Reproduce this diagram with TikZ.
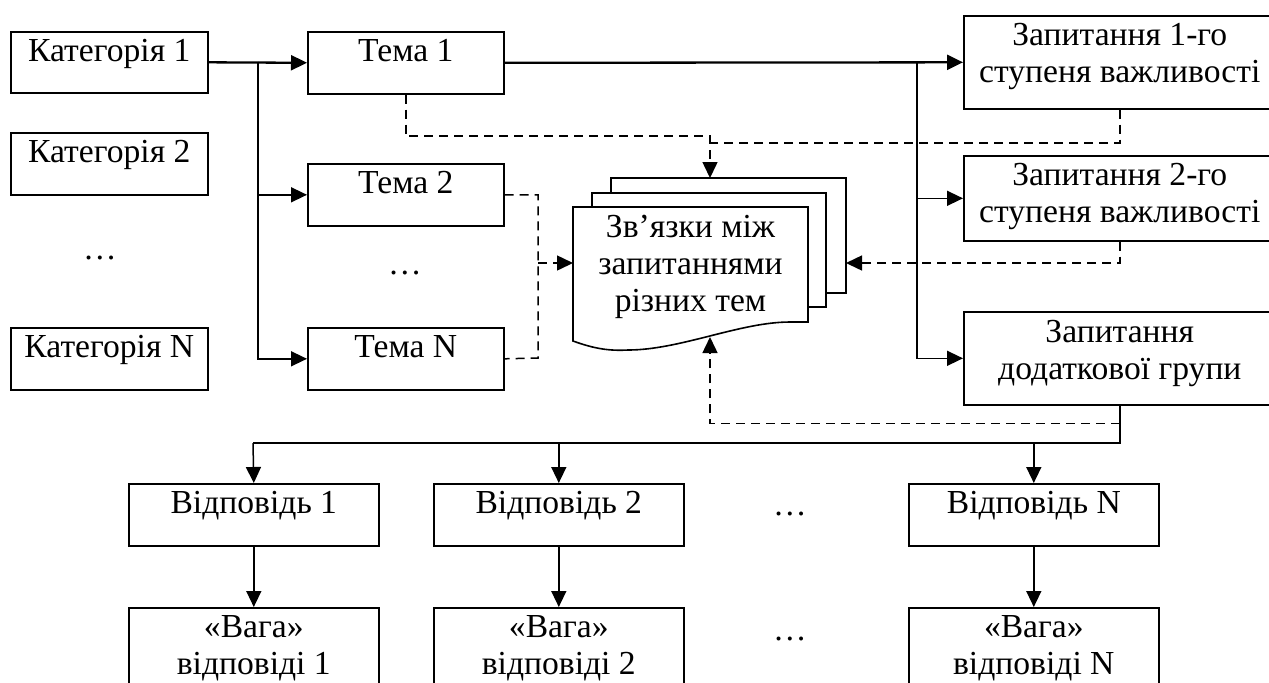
\documentclass[tikz,border=0pt]{standalone}
\usepackage{fontspec}
\setmainfont{Liberation Serif}
\usetikzlibrary{arrows.meta,calc}

% centred lines of text whose reference point is the first baseline
\newcommand{\mlines}[1]{\begin{tabular}[t]{@{}c@{}}#1\end{tabular}}

\begin{document}
\begin{tikzpicture}[x=0.5pt,y=-0.5pt,
  every node/.style={font=\fontsize{16.8pt}{18.5pt}\selectfont},
  box/.style={draw, line width=0.8pt, inner sep=0pt, anchor=north west},
  sz/.style 2 args={minimum width=#1*0.5pt, minimum height=#2*0.5pt},
  lbl/.style={anchor=base, inner sep=0pt},
  tip/.style={-{Triangle[length=8pt,width=7.5pt]}},
  line/.style={line width=0.75pt},
  main/.style={line width=1.15pt},
  dashline/.style={line width=0.75pt, dash pattern=on 4.5pt off 3pt},
  page/.style={line width=0.8pt, line join=miter}
]
\useasboundingbox (0,0) rectangle (1269,682);
\clip (0,0) rectangle (1269,682);

% categories
\node[box, sz={197}{61}] (k1) at (10,31) {};
\node[box, sz={197}{62}] (k2) at (10,132) {};
\node[box, sz={197}{62}] (kN) at (10,327) {};
\node[lbl] (k1t) at ([yshift=-15.3pt]k1.north) {Категорія 1};
\node[lbl] (k2t) at ([yshift=-15.3pt]k2.north) {Категорія 2};
\node[lbl] (kNt) at ([yshift=-15.3pt]kN.north) {Категорія N};
\node[lbl] (kdots) at (100,259) {…};

% topics
\node[box, sz={196}{62}] (t1) at (307,31) {};
\node[box, sz={196}{62}] (t2) at (307,163) {};
\node[box, sz={196}{62}] (tN) at (307,327) {};
\node[lbl] (t1t) at ([yshift=-15.3pt]t1.north) {Тема 1};
\node[lbl] (t2t) at ([yshift=-15.3pt]t2.north) {Тема 2};
\node[lbl] (tNt) at ([yshift=-15.3pt]tN.north) {Тема N};
\node[lbl] (tdots) at (405,274) {…};

% question groups
\node[box, sz={312}{93}] (z1) at (963,15) {};
\node[box, sz={312}{85}] (z2) at (963,155) {};
\node[box, sz={312}{93}] (z3) at (963,311) {};
\node[lbl] (z1t) at ([yshift=-15.2pt]z1.north) {\mlines{Запитання 1-го\\ступеня важливості}};
\node[lbl] (z2t) at ([yshift=-15.2pt]z2.north) {\mlines{Запитання 2-го\\ступеня важливості}};
\node[lbl] (z3t) at ([yshift=-15.5pt]z3.north) {\mlines{Запитання\\додаткової групи}};

% answers and their weights
\node[box, sz={250}{62}] (v1) at (128,483) {};
\node[box, sz={250}{62}] (v2) at (433,483) {};
\node[box, sz={250}{62}] (vN) at (908,483) {};
\node[lbl] (v1t) at ([yshift=-15.2pt]v1.north) {Відповідь 1};
\node[lbl] (v2t) at ([yshift=-15.2pt]v2.north) {Відповідь 2};
\node[lbl] (vNt) at ([yshift=-15.2pt]vN.north) {Відповідь N};
\node[lbl] (vdots) at (790,515) {…};

\node[box, sz={250}{95}] (w1) at (128,607) {};
\node[box, sz={250}{95}] (w2) at (433,607) {};
\node[box, sz={250}{95}] (wN) at (908,607) {};
\node[lbl] (w1t) at ([yshift=-15.2pt]w1.north) {\mlines{«Вага»\\відповіді 1}};
\node[lbl] (w2t) at ([yshift=-15.2pt]w2.north) {\mlines{«Вага»\\відповіді 2}};
\node[lbl] (wNt) at ([yshift=-15.2pt]wN.north) {\mlines{«Вага»\\відповіді N}};
\node[lbl] (wdots) at (790,640) {…};

% stacked document: links between questions of different topics
\draw[page] (611,193) -- (611,178) -- (846,178) -- (846,293) -- (826,293);
\draw[page] (592,207) -- (592,193) -- (826,193) -- (826,307) -- (808,307);
\draw[page] (573,207) -- (808,207) -- (808,322) -- (790,322)
  .. controls (740,322) and (680,350) .. (628,350)
  .. controls (610,351) and (595,349) .. (573,341) -- cycle;
\node[lbl] (doc) at (690.5,237) {\mlines{Зв’язки між\\запитаннями\\різних тем}};
\coordinate (dT) at (710,178);
\coordinate (dL) at (573,263);
\coordinate (dR) at (846,263);
\coordinate (dB) at (710,337);

% solid connectors
\coordinate (j1) at (258,61.5);
\coordinate (j2) at (917,61.5);
\draw[main, tip] (k1.east) -- (t1.west);
\draw[line, tip] (j1) |- (t2.west);
\draw[line, tip] (j1) |- (tN.west);
\draw[main, tip] (t1.east) -- (z1.west);
\draw[line, tip] (j2) |- (z2.west);
\draw[line, tip] (j2) |- (z3.west);

\coordinate (bus) at (253,443);
\draw[line] (z3.south) |- (bus);
\draw[line, tip] (bus) -- (v1.north);
\draw[line, tip] (v2.north |- bus) -- (v2.north);
\draw[line, tip] (vN.north |- bus) -- (vN.north);
\draw[line, tip] (v1.south) -- (w1.north);
\draw[line, tip] (v2.south) -- (w2.north);
\draw[line, tip] (vN.south) -- (wN.north);

% dashed connectors into the document
\coordinate (m1) at (710,136);
\coordinate (m2) at (710,143);
\coordinate (cm) at (538,263);
\coordinate (cb) at (538,358);
\draw[dashline, tip] (t1.south) |- (m1) -- (dT);
\draw[dashline] (z1.south) |- (m2);
\draw[dashline] (t2.east) -| (cb) -- (tN.east);
\draw[dashline, tip] (cm) -- (dL);
\draw[dashline, tip] (z2.south) |- (dR);
\draw[dashline, tip] ($(z3.south)+(0,18)$) -| (dB);
\end{tikzpicture}
\end{document}
